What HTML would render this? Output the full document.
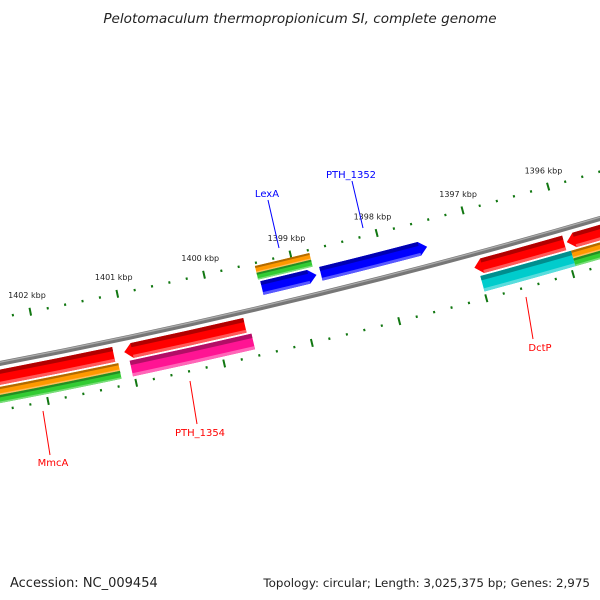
<!DOCTYPE html>
<html><head><meta charset="utf-8">
<style>
html,body{margin:0;padding:0;background:#fff;}
svg{display:block;font-family:"DejaVu Sans","Liberation Sans",sans-serif;}
</style></head>
<body>
<svg id="map" width="600" height="600" viewBox="0 0 600 600" xmlns="http://www.w3.org/2000/svg">
<rect width="600" height="600" fill="#fff"/>
<text x="300" y="23" text-anchor="middle" font-size="13.6" font-style="italic" fill="#222">Pelotomaculum thermopropionicum SI, complete genome</text>
<g id="rulers"></g>
<g id="feats"></g>
<g id="labels"></g>
<text x="10" y="587" font-size="13" fill="#222">Accession: NC_009454</text>
<text x="590" y="587" text-anchor="end" font-size="11.9" fill="#222">Topology: circular; Length: 3,025,375 bp; Genes: 2,975</text>
</svg>
<script>
// ---- data ----
const majorTicks = [1403, 1402, 1401, 1400, 1399, 1398, 1397, 1396, 1395];
const tickLabels = ["1403 kbp","1402 kbp","1401 kbp","1400 kbp","1399 kbp","1398 kbp","1397 kbp","1396 kbp","1395 kbp"];
const featNames  = ["red-a","red-b","red-c","red-d","magenta","cyan","orange-a","green-a","orange-b","green-b","orange-c","green-c","blue-lexa","blue-pth1352"];
const featStart  = [1402.9,1401.06,1397.04,1395.97,1401.02,1397.0,1402.9,1402.9,1395.95,1395.95,1399.42,1399.42,1399.40,1398.72];
const featEnd    = [1401.18,1399.68,1396.0,1395.2,1399.63,1395.95,1401.15,1401.15,1395.2,1395.2,1398.79,1398.79,1398.77,1397.49];
const featTrack  = ["o1","o1","o1","o1","o2","o2","o2a","o2b","o2a","o2b","i2a","i2b","i1","i1"];
const featDir    = [0,-1,-1,-1,0,0,0,0,0,0,0,0,1,1];
const featColor  = ["#ff0000","#ff0000","#ff0000","#ff0000","#ff1493","#00cccc","#ff9900","#33cc33","#ff9900","#33cc33","#ff9900","#33cc33","#0000ff","#0000ff"];
const geneLabels = ["LexA","PTH_1352","MmcA","PTH_1354","DctP"];
const geneColors = ["#0000ff","#0000ff","#ff0000","#ff0000","#ff0000"];

// ---- geometry ----
const CX=-1234, CY=-6056, R0=6537;
const A0=0.196, DA=0.01368;
function ang(k){return A0+(1402-k)*DA;}
function pt(r,a){return [CX+r*Math.sin(a), CY+r*Math.cos(a)];}
const tracks={o1:[R0+6,R0+21],o2:[R0+23,R0+39],o2a:[R0+23,R0+31],o2b:[R0+31,R0+39],
  i1:[R0-26,R0-12],i2a:[R0-42,R0-35],i2b:[R0-35,R0-28]};
const NS="http://www.w3.org/2000/svg";
function mk(tag,attrs,parent){const e=document.createElementNS(NS,tag);for(const k in attrs)e.setAttribute(k,attrs[k]);parent.appendChild(e);return e;}

const bb=document.getElementById('feats');
(function(){
  const a1=ang(1404),a2=ang(1394);
  const [x1,y1]=pt(R0,a1),[x2,y2]=pt(R0,a2);
  const p1=mk('path',{d:`M${x1},${y1} A${R0},${R0} 0 0 0 ${x2},${y2}`,stroke:'#777',"stroke-width":5,fill:'none'},bb);
  
  
  const [u1,v1]=pt(R0-1.2,a1),[u2,v2]=pt(R0-1.2,a2);
  const p2=mk('path',{d:`M${u1},${v1} A${R0},${R0} 0 0 0 ${u2},${v2}`,stroke:'#aaa',"stroke-width":1.3,fill:'none'},bb);
  
  
})();

function shade(hex,f){const n=parseInt(hex.slice(1),16);let r=n>>16,g=(n>>8)&255,b=n&255;
  if(f<0){r*=1+f;g*=1+f;b*=1+f;}else{r+=(255-r)*f;g+=(255-g)*f;b+=(255-b)*f;}
  return `rgb(${r|0},${g|0},${b|0})`;}

function bandPath(r1,r2,a1,a2,dir){
  const ah=8/((r1+r2)/2);
  let s=a1,e=a2;
  if(dir===1)e=a2-ah; if(dir===-1)s=a1+ah;
  const rm=(r1+r2)/2;
  const P=(r,a)=>pt(r,a).join(',');
  let d=`M${P(r2,s)} A${r2},${r2} 0 0 0 ${P(r2,e)}`;
  if(dir===1)d+=` L${P(rm,a2)}`;
  d+=` L${P(r1,e)} A${r1},${r1} 0 0 1 ${P(r1,s)}`;
  if(dir===-1)d+=` L${P(rm,a1)}`;
  return d+' Z';
}
for(let i=0;i<featNames.length;i++){
  const [r1,r2]=tracks[featTrack[i]];
  const a1=ang(featStart[i]),a2=ang(featEnd[i]);
  const g=mk('g',{},bb);
  
  
  const th=r2-r1;
  const ah=8/((r1+r2)/2);
  const s2=featDir[i]===-1?a1+ah:a1, e2=featDir[i]===1?a2-ah:a2;
  mk('path',{d:bandPath(r1,r2,a1,a2,featDir[i]),fill:featColor[i]},g);
  mk('path',{d:bandPath(r1,r1+th*0.28,s2,e2,0),fill:shade(featColor[i],-0.3)},g);
  mk('path',{d:bandPath(r2-th*0.2,r2,s2,e2,0),fill:shade(featColor[i],0.35)},g);
}

// rulers
const rg=document.getElementById('rulers');
const RIN=R0-45, ROUT=R0+46;
for(let k=1395;k<=1403.001;k+=0.2){
  const kk=Math.round(k*10)/10;
  const major=Math.abs(kk-Math.round(kk))<1e-6;
  const a=ang(kk);
  [[RIN,'inner'],[ROUT,'outer']].forEach(([r,nm])=>{
    const L=major?4:1.2;
    const [x1,y1]=pt(r-L,a),[x2,y2]=pt(r+L,a);
    const t=mk('line',{x1,y1,x2,y2,stroke:'#117711',"stroke-width":2},rg);
    
    
  });
}
for(let i=0;i<majorTicks.length;i++){
  const [x,y]=pt(RIN-17,ang(majorTicks[i]));
  const t=mk('text',{x:x,y:y+3,"text-anchor":"middle","font-size":"8","fill":"#222"},rg);
  t.textContent=tickLabels[i];
  
  
}

// gene labels (annotation positions)
const lg=document.getElementById('labels');
const lblPos=[[[279,248],[268,200],[267,197]],[[363,228],[352,181],[351,178]],[[43,411],[50,455],[53,466]],[[190,381],[197,424],[200,436]],[[526,297],[533,339],[540,351]]];
for(let i=0;i<geneLabels.length;i++){
  const [a,b,t]=lblPos[i];
  const l=mk('line',{x1:a[0],y1:a[1],x2:b[0],y2:b[1],stroke:geneColors[i],"stroke-width":1},lg);
  
  
  const tx=mk('text',{x:t[0],y:t[1],"text-anchor":"middle","font-size":"10","fill":geneColors[i]},lg);
  tx.textContent=geneLabels[i];
  
  
}
</script>
</body></html>
